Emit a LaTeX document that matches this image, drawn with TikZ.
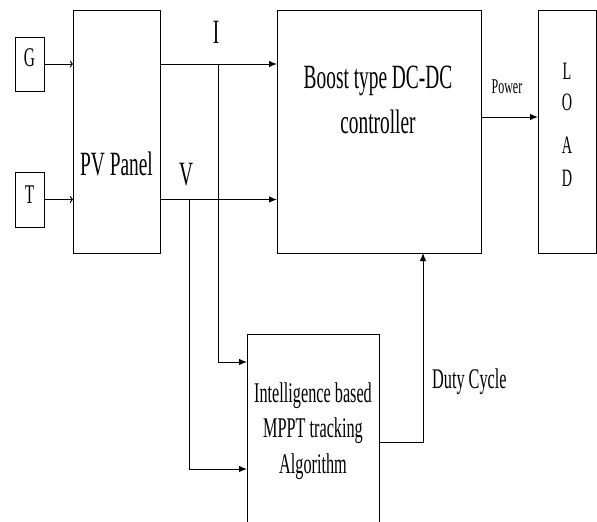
\documentclass[tikz,border=0pt]{standalone}
\usepackage{fontspec}
\setmainfont{Liberation Serif}[FakeStretch=0.57]
\usetikzlibrary{arrows.meta}
\begin{document}
\begin{tikzpicture}[x=1pt,y=-1pt,
  box/.style={draw,line width=1pt,inner sep=0pt,outer sep=0pt},
  conn/.style={line width=1pt},
  big/.style={conn,-{Latex[length=8pt,width=6.5pt]}},
  thin/.style={conn,-{To[length=3pt,width=7pt]}},
  txt/.style={anchor=base,inner sep=0pt}]
\clip (0,0) rectangle (597,522);
% boxes
\node[box,minimum width=29pt,minimum height=54pt] (G) at (29.5,64) {};
\node[box,minimum width=29pt,minimum height=55pt] (T) at (29.5,199.5) {};
\node[box,minimum width=87pt,minimum height=243pt] (PV) at (116.5,131.5) {};
\node[box,minimum width=204pt,minimum height=243pt] (DC) at (379,131.5) {};
\node[box,minimum width=58pt,minimum height=243pt] (LOAD) at (567,131.5) {};
\node[box,minimum width=132pt,minimum height=220pt] (MPPT) at (313,444) {};
% texts
\node[txt,font=\fontsize{27}{30}\selectfont] (tG) at (29.5,66) {G};
\node[txt,font=\fontsize{27}{30}\selectfont] (tT) at (29.5,203) {T};
\node[txt,font=\fontsize{34}{40}\selectfont] (tPV) at (116.5,175) {PV Panel};
\node[txt,font=\fontsize{34}{40}\selectfont] (tI) at (216,43) {I};
\node[txt,font=\fontsize{34}{40}\selectfont] (tV) at (186,185) {V};
\node[txt,font=\fontsize{34}{40}\selectfont] (tDC1) at (378,88) {Boost type DC-DC};
\node[txt,font=\fontsize{34}{40}\selectfont] (tDC2) at (378,133) {controller};
\node[txt,font=\fontsize{21}{24}\selectfont] (tPow) at (507,93) {Power};
\node[txt,font=\fontsize{25}{28}\selectfont] (tL) at (567,79) {L};
\node[txt,font=\fontsize{25}{28}\selectfont] (tO) at (567,110) {O};
\node[txt,font=\fontsize{25}{28}\selectfont] (tA) at (567,153) {A};
\node[txt,font=\fontsize{25}{28}\selectfont] (tD) at (567,186) {D};
\node[txt,font=\fontsize{28.5}{32}\selectfont] (tM1) at (313,402) {Intelligence based};
\node[txt,font=\fontsize{28.5}{32}\selectfont] (tM2) at (313,437) {MPPT tracking};
\node[txt,font=\fontsize{28.5}{32}\selectfont] (tM3) at (313,473) {Algorithm};
\node[txt,anchor=base west,font=\fontsize{28.5}{32}\selectfont] (tDuty) at (432,388) {Duty Cycle};
% junction coordinates
\coordinate (jI) at (218,362);
\coordinate (jV) at (189,469);
\coordinate (jD) at (423,442);
\coordinate (jP) at (510,117);
% connectors
\draw[thin] (G.east) -- (G.east -| PV.west);
\draw[thin] (T.east) -- (T.east -| PV.west);
\draw[big] (PV.east |- G) -- (DC.west |- G);
\draw[big] (PV.east |- T) -- (DC.west |- T);
\draw[big] (jI |- G) -- (jI) -- (jI -| MPPT.west);
\draw[big] (jV |- T) -- (jV) -- (jV -| MPPT.west);
\draw[big] (jD -| MPPT.east) -- (jD) -- (jD |- DC.south);
\draw[big] (jP -| DC.east) -- (jP -| LOAD.west);
\end{tikzpicture}
\end{document}
